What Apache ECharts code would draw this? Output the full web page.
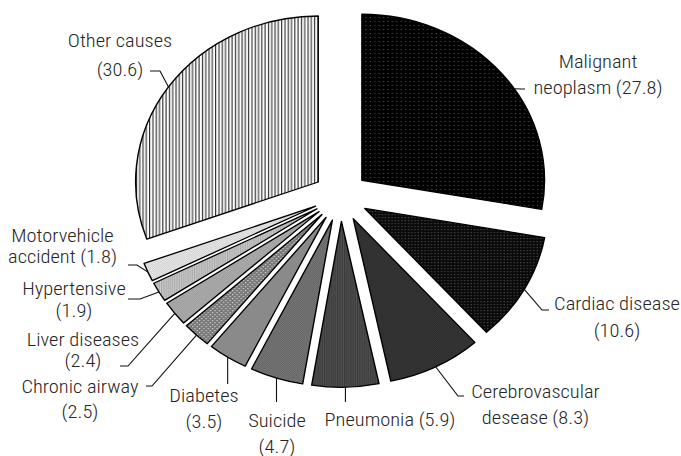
<!DOCTYPE html>
<html><head><meta charset="utf-8">
<script src="https://cdn.jsdelivr.net/npm/echarts@6/dist/echarts.min.js"></script>
<style>
html,body{margin:0;padding:0;background:#fff;overflow:hidden}
#wrap{width:681px;height:456px;position:relative;overflow:hidden;background:#fff}
#chart{width:619px;height:456px;position:absolute;left:0;top:0;transform:scaleX(1.100162);transform-origin:0 0}
</style></head>
<body><div id="wrap"><div id="chart"></div></div>
<script>
// ---- data ----
const categories = ['Malignant neoplasm','Cardiac disease','Cerebrovascular desease','Pneumonia','Suicide','Diabetes','Chronic airway','Liver diseases','Hypertensive','Motorvehicle accident','Other causes'];
const values = [27.8, 10.6, 8.3, 5.9, 4.7, 3.5, 2.5, 2.4, 1.9, 1.8, 30.6];
const labelTexts = [
  ['Malignant', 'neoplasm (27.8)'],
  ['Cardiac disease', '(10.6)'],
  ['Cerebrovascular', 'desease (8.3)'],
  ['Pneumonia (5.9)'],
  ['Suicide', '(4.7)'],
  ['Diabetes', '(3.5)'],
  ['Chronic airway', '(2.5)'],
  ['Liver diseases', '(2.4)'],
  ['Hypertensive', '(1.9)'],
  ['Motorvehicle', 'accident (1.8)'],
  ['Other causes', '(30.6)']
];

// ---- layout / style (screen px) ----
const SX = 681 / 619;
const OFFSET = 25;
const labelPlace = [
  {cx:598,   y1:62,    lh:26,   end:[525,89],  elbow:[521,89], at:0.565},
  {cx:617,   y1:303.5, lh:27,   end:[549,310], elbow:[542,310]},
  {cx:535.5, y1:391.5, lh:26,   end:[464,396], elbow:[458,396]},
  {cx:390,   y1:419.5, lh:26,   down:402},
  {cx:277,   y1:420.5, lh:26,   down:402},
  {cx:204,   y1:395.5, lh:26,   down:384},
  {cx:80,    y1:386.5, lh:25,   end:[146,386], elbow:[152,386]},
  {cx:83,    y1:339.5, lh:21,   end:[120,366], elbow:[128,366]},
  {cx:74,    y1:289,   lh:21.5, end:[128,299], elbow:[140,299]},
  {cx:62.5,  y1:236,   lh:21,   end:[128,265], elbow:[137,265]},
  {cx:120,   y1:41,    lh:29,   end:[150,71],  elbow:[160,71]}
];
const fills = [
  (x,y)=> (x%4==1&&y%4==1)?'#5a5a5a':'#000000',
  (x,y)=> (x%3==1&&y%3==1)?'#5e5e5e':'#0a0a0a',
  (x,y)=> ((x+y)%2)?'#474747':'#1c1c1c',
  (x,y)=> (x%2)?'#555555':'#363636',
  (x,y)=> ((x+y)%2)?'#8a8a8a':'#525252',
  (x,y)=> '#8a8a8a',
  (x,y)=> ((x%4==0&&y%4==0)||(x%4==2&&y%4==2))?'#f0f0f0':'#787878',
  (x,y)=> ((x+y)%2)?'#c0c0c0':'#8a8a8a',
  (x,y)=> (x%2)?'#d0d0d0':'#a4a4a4',
  (x,y)=> ((x+y)%2)?'#f4f4f4':'#c6c6c6',
  (x,y)=> (x%3==0)?'#2a2a2a':'#ffffff'
];
function tile(fn){
  const c = document.createElement('canvas'); c.width = 12; c.height = 12;
  const g = c.getContext('2d');
  for (let y=0;y<12;y++) for (let x=0;x<12;x++){ g.fillStyle = fn(x,y); g.fillRect(x,y,1,1); }
  return {image:c, repeat:'repeat', imageWidth:12, imageHeight:12};
}

// font choice
function fontAvailable(name){
  const g = document.createElement('canvas').getContext('2d');
  const t = 'Malignant neoplasm 27.8 Wiyg';
  g.font = '40px monospace'; const a = g.measureText(t).width;
  g.font = '40px "'+name+'", monospace'; const b = g.measureText(t).width;
  g.font = '40px serif'; const c = g.measureText(t).width;
  g.font = '40px "'+name+'", serif'; const d = g.measureText(t).width;
  return a !== b || c !== d;
}
let FONT = 'Roboto';
for (const f of ['Liberation Sans Narrow','Roboto Condensed','Arial Narrow','Roboto']) { if (fontAvailable(f)) { FONT = f; break; } }
const refWords = ['Malignant','Cardiac disease','Motorvehicle','Other causes','Pneumonia (5.9)','Cerebrovascular','Liver diseases','Chronic airway'];
const refTotal = 866 / SX;
let FS = 19;
(function(){
  const g = document.createElement('canvas').getContext('2d');
  g.font = '300 20px "'+FONT+'"';
  let w = 0; refWords.forEach(s => w += g.measureText(s).width);
  FS = Math.max(14, Math.min(20, 1.04 * 20 * refTotal / w));
})();

const chart = echarts.init(document.getElementById('chart'), null, {renderer:'svg', width:619, height:456});
const CENTER = [340.8 / SX, 196.3];
const RADIUS = 166;

function itemLayout(i){
  try { return chart.getModel().getSeriesByIndex(0).getData().getItemLayout(i); } catch(e) { return null; }
}
function linePoints(i){
  const lay = itemLayout(i);
  if (!lay || lay.r == null) return null;
  const L = labelPlace[i];
  const mid = (lay.startAngle + lay.endAngle) / 2;
  const dx = Math.cos(mid) * OFFSET, dy = Math.sin(mid) * OFFSET;
  const a = lay.startAngle + (L.at != null ? L.at : 0.5) * (lay.endAngle - lay.startAngle);
  const p0 = [lay.cx + dx + lay.r * Math.cos(a), lay.cy + dy + lay.r * Math.sin(a)];
  if (L.down != null) return [p0, [p0[0], L.down], [p0[0], L.down]];
  return [p0, [L.elbow[0] / SX, L.elbow[1]], [L.end[0] / SX, L.end[1]]];
}

const sliceData = categories.map((name, i) => ({
  name: name, value: values[i], selected: true,
  itemStyle: { color: tile(fills[i]) }
}));
const labelData = categories.map((name, i) => ({
  name: name, value: values[i],
  label: { lineHeight: labelPlace[i].lh }
}));

chart.setOption({
  animation: false,
  backgroundColor: '#fff',
  series: [{
    type: 'pie',
    center: CENTER,
    radius: [0, RADIUS],
    startAngle: 90,
    clockwise: true,
    selectedMode: 'multiple',
    selectedOffset: OFFSET,
    silent: true,
    emphasis: { disabled: true, scale: false },
    itemStyle: { borderColor: '#000', borderWidth: 1.3 },
    label: { show: false },
    labelLine: { show: false },
    data: sliceData
  }, {
    type: 'pie',
    center: CENTER,
    radius: [0, RADIUS],
    startAngle: 90,
    clockwise: true,
    avoidLabelOverlap: false,
    silent: true,
    z: 3,
    emphasis: { disabled: true, scale: false },
    itemStyle: { color: 'rgba(0,0,0,0)', borderWidth: 0 },
    label: {
      show: true,
      position: 'outside',
      color: '#262626',
      fontFamily: FONT,
      fontWeight: 300,
      fontSize: FS,
      formatter: p => labelTexts[p.dataIndex].join('\n')
    },
    labelLine: { show: true, lineStyle: { color: '#111', width: 1 }, length: 5, length2: 5 },
    labelLayout: function (p) {
      const L = labelPlace[p.dataIndex];
      const res = { x: L.cx / SX, y: L.y1 - L.lh / 2, align: 'center', verticalAlign: 'top' };
      const pts = linePoints(p.dataIndex);
      if (pts) res.labelLinePoints = pts;
      return res;
    },
    data: labelData
  }]
});
</script>
</body></html>
